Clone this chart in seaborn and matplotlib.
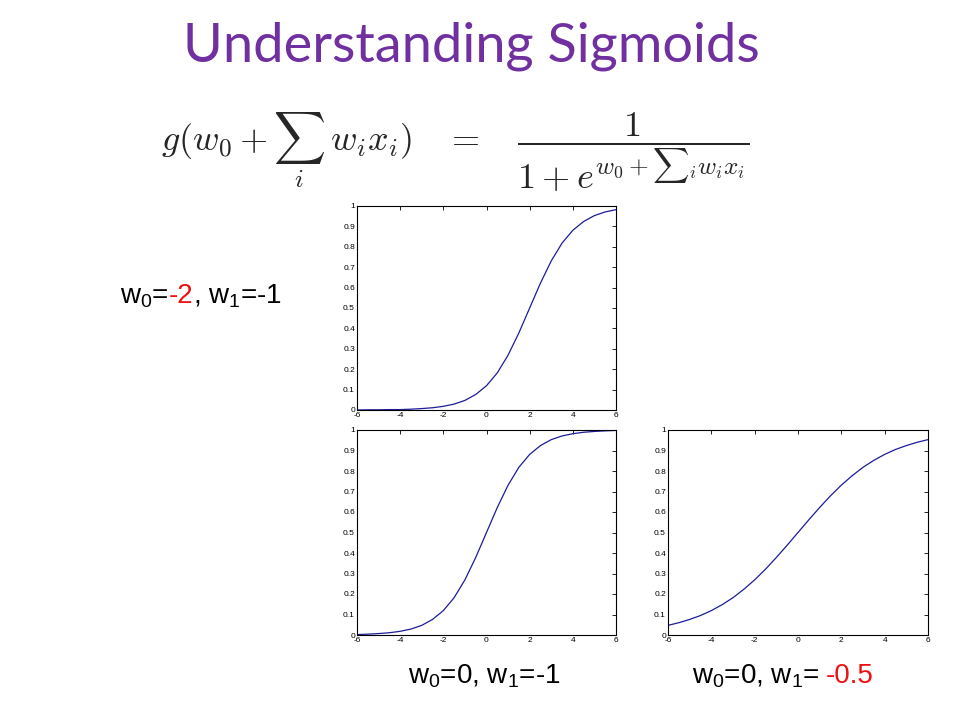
import matplotlib
matplotlib.use("Agg")
import matplotlib.pyplot as plt
import seaborn as sns
import pandas as pd

# ---- data ----
x_vals = [-6.0, -5.5, -5.0, -4.5, -4.0, -3.5, -3.0, -2.5, -2.0, -1.5, -1.0, -0.5,
          0.0, 0.5, 1.0, 1.5, 2.0, 2.5, 3.0, 3.5, 4.0, 4.5, 5.0, 5.5, 6.0]
y_w0m2_w1m1 = [0.000, 0.001, 0.001, 0.002, 0.002, 0.004, 0.007, 0.011, 0.018, 0.029,
               0.047, 0.076, 0.119, 0.182, 0.269, 0.378, 0.500, 0.622, 0.731, 0.818,
               0.881, 0.924, 0.953, 0.971, 0.982]
y_w00_w1m1 = [0.002, 0.004, 0.007, 0.011, 0.018, 0.029, 0.047, 0.076, 0.119, 0.182,
              0.269, 0.378, 0.500, 0.622, 0.731, 0.818, 0.881, 0.924, 0.953, 0.971,
              0.982, 0.989, 0.993, 0.996, 0.998]
y_w00_w1m05 = [0.047, 0.060, 0.076, 0.095, 0.119, 0.148, 0.182, 0.223, 0.269, 0.321,
               0.378, 0.438, 0.500, 0.562, 0.622, 0.679, 0.731, 0.777, 0.818, 0.852,
               0.881, 0.905, 0.924, 0.940, 0.953]
x_ticks = [-6, -4, -2, 0, 2, 4, 6]
y_ticks = [0, 0.1, 0.2, 0.3, 0.4, 0.5, 0.6, 0.7, 0.8, 0.9, 1]
y_tick_labels = ["0", "0.1", "0.2", "0.3", "0.4", "0.5", "0.6", "0.7", "0.8", "0.9", "1"]
title = "Understanding Sigmoids"

sns.set_theme(style="white")
plt.rcParams["font.family"] = ["Liberation Sans", "DejaVu Sans"]
plt.rcParams["mathtext.fontset"] = "custom"
plt.rcParams["mathtext.rm"] = "Liberation Sans"
plt.rcParams["mathtext.it"] = "Liberation Sans:italic"

W, H = 960, 720
fig = plt.figure(figsize=(9.6, 7.2), dpi=100)
fig.patch.set_facecolor("white")

def px_axes(l, t, r, b):
    return fig.add_axes([l / W, 1 - b / H, (r - l) / W, (b - t) / H])

line_color = "#1c1c9a"
panels = [
    ((357, 206, 616, 410), y_w0m2_w1m1),
    ((357, 430, 616, 635), y_w00_w1m1),
    ((668, 430, 928, 635), y_w00_w1m05),
]
for (l, t, r, b), ys in panels:
    ax = px_axes(l, t, r, b)
    df = pd.DataFrame({"x": x_vals, "y": ys})
    sns.lineplot(data=df, x="x", y="y", ax=ax, color=line_color, linewidth=0.9)
    ax.set_xlim(-6, 6)
    ax.set_ylim(0, 1)
    ax.set_xticks(x_ticks)
    ax.set_xticklabels([str(v) for v in x_ticks])
    ax.set_yticks(y_ticks)
    ax.set_yticklabels(y_tick_labels)
    ax.set_xlabel("")
    ax.set_ylabel("")
    ax.tick_params(direction="in", length=3, width=0.6, labelsize=6,
                   top=True, right=True, pad=1.5, colors="black")
    for s in ax.spines.values():
        s.set_visible(True)
        s.set_color("black")
        s.set_linewidth(0.8)

# title
fig.text(471 / W, 1 - 46 / H, title, ha="center", va="center",
         fontsize=39, color="#7030A0", family=["Lato", "DejaVu Sans"])

# formula
fig.text(455 / W, 1 - 152 / H,
         r"$g(w_0+\sum_i\; w_i x_i)\quad=\quad\dfrac{1}{1+e^{w_0+{\sum}_i w_i x_i}}$",
         ha="center", va="center", fontsize=26, math_fontfamily="cm")

# parameter labels with coloured parts
fig.canvas.draw()
renderer = fig.canvas.get_renderer()

def chain(x0, y0, pieces, size=20):
    x = x0
    for txt, col, gap in pieces:
        t = fig.text(x / W, 1 - y0 / H, txt, ha="left", va="baseline",
                     fontsize=size, color=col)
        fig.canvas.draw()
        x += t.get_window_extent(renderer).width + gap

red = "#ee1111"
chain(120, 303, [("w${}_0$=", "black", 0), ("-2", red, 0), (", w${}_1$=-1", "black", 0)])
chain(408, 683, [("w${}_0$=0, w${}_1$=-1", "black", 0)])
chain(692, 683, [("w${}_0$=0, w${}_1$=", "black", 6), ("-0.5", red, 0)])

fig.savefig("out.png", dpi=100, facecolor="white")
